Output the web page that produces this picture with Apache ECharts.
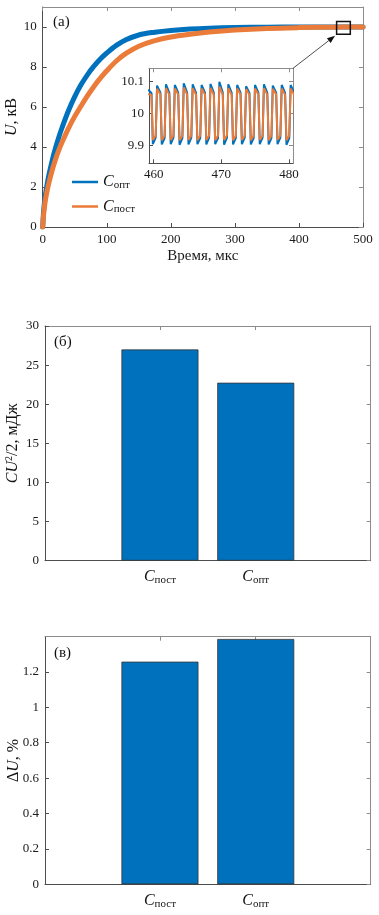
<!DOCTYPE html>
<html><head><meta charset="utf-8">
<script src="https://cdn.jsdelivr.net/npm/echarts@6/dist/echarts.min.js"></script>
<style>html,body{margin:0;padding:0;background:#fff}#c{width:379px;height:915px}</style>
</head><body><div id="c"></div>
<script>
// ---- data ----
const timeUs = [0,1,2,4,7,10,15,20,25,30,40,50,60,70,80,90,100,115,130,150,175,200,230,260,300,350,400,450,500];
const uOpt   = [0,0.6,1.0,1.55,2.15,2.65,3.35,3.95,4.48,4.95,5.8,6.52,7.12,7.62,8.04,8.4,8.7,9.08,9.36,9.6,9.74,9.83,9.9,9.94,9.97,9.99,10.0,10.0,10.0];
const uPost  = [0,0.45,0.8,1.3,1.82,2.25,2.86,3.38,3.83,4.22,4.92,5.53,6.06,6.57,7.03,7.44,7.81,8.3,8.68,9.04,9.32,9.5,9.64,9.75,9.85,9.93,9.97,9.99,10.0];

const insetTime = [
 459.17,459.67,459.87,460.29, 460.49,460.99,461.19,461.61, 461.81,462.31,462.51,462.92,
 463.12,463.62,463.82,464.24, 464.44,464.94,465.14,465.56, 465.76,466.26,466.46,466.88,
 467.08,467.58,467.78,468.19, 468.39,468.89,469.09,469.51, 469.71,470.21,470.41,470.83,
 471.03,471.53,471.73,472.14, 472.34,472.84,473.04,473.46, 473.66,474.16,474.36,474.78,
 474.98,475.48,475.68,476.10, 476.30,476.80,477.00,477.41, 477.61,478.11,478.31,478.73,
 478.93,479.43,479.63,480.05, 480.25,480.75,480.95,481.37];
const insetOpt = [
 10.075,10.065,9.905,9.925, 10.088,10.066,9.904,9.924, 10.092,10.065,9.905,9.925,
 10.090,10.066,9.903,9.924, 10.095,10.066,9.904,9.925, 10.092,10.065,9.905,9.924,
 10.090,10.066,9.904,9.925, 10.093,10.065,9.905,9.924, 10.100,10.066,9.903,9.925,
 10.092,10.065,9.904,9.924, 10.090,10.066,9.905,9.925, 10.086,10.065,9.904,9.924,
 10.090,10.066,9.905,9.925, 10.092,10.065,9.904,9.924, 10.088,10.066,9.905,9.925,
 10.090,10.065,9.903,9.924, 10.090,10.066,9.905,9.925];
const insetPost = [
 10.062,10.058,9.918,9.932, 10.078,10.060,9.917,9.932, 10.080,10.059,9.918,9.933,
 10.079,10.060,9.917,9.932, 10.082,10.060,9.918,9.932, 10.080,10.059,9.917,9.933,
 10.079,10.060,9.918,9.932, 10.081,10.059,9.917,9.932, 10.085,10.060,9.918,9.933,
 10.080,10.059,9.917,9.932, 10.079,10.060,9.918,9.932, 10.077,10.059,9.917,9.933,
 10.079,10.060,9.918,9.932, 10.080,10.059,9.917,9.932, 10.078,10.060,9.918,9.933,
 10.079,10.059,9.917,9.932, 10.079,10.060,9.918,9.932];

const barNames  = ['пост','опт'];
const barPos    = [1, 2];
const energy    = [27.0, 22.75];
const deltaU    = [1.258, 1.386];

const mainXTicks   = [0,100,200,300,400,500];
const mainYTicks   = [0,2,4,6,8,10];
const insetXTicks  = [460,470,480];
const insetYTicks  = [9.9,10,10.1];
const energyTicks  = [0,5,10,15,20,25,30];
const dUTicks      = [0,0.2,0.4,0.6,0.8,1,1.2];

const zoomBoxX = [458.8, 480.2];
const zoomBoxY = [9.64, 10.27];

// ---- styling ----
const serif = "'Liberation Serif','Times New Roman',serif";
const BLUE = '#0072BD', ORANGE = '#EA7B38';
const AX_DARK = '#4d4d4d', AX_LIGHT = '#8c8c8c';
const rich = {
  c: {fontFamily: serif, fontStyle: 'italic', fontSize: 16, color: '#111'},
  s: {fontFamily: serif, fontSize: 11, color: '#111', padding: [6,0,0,0]},
  sup: {fontFamily: serif, fontSize: 10, color: '#111', padding: [0,0,7,0]},
  n: {fontFamily: serif, fontSize: 14, color: '#111'},
  i: {fontFamily: serif, fontStyle: 'italic', fontSize: 14, color: '#111'},
  N: {fontFamily: serif, fontSize: 16, color: '#111'},
  I: {fontFamily: serif, fontStyle: 'italic', fontSize: 16, color: '#111'}
};

const gridBase = {outerBoundsMode: 'none', containLabel: false};
const grids = [
  Object.assign({left: 42.7, top: 7, width: 320.3, height: 220}, gridBase),
  Object.assign({left: 149, top: 68.3, width: 144, height: 95, show: true, backgroundColor: '#fff', borderWidth: 0}, gridBase),
  Object.assign({left: 45, top: 326, width: 325.7, height: 234.7}, gridBase),
  Object.assign({left: 45, top: 636.7, width: 325.7, height: 247.6}, gridBase)
];

function mainAxis(gi, pos, min, max, ticks, labelOpt, nameOpt) {
  const isMirror = (pos === 'top' || pos === 'right');
  const a = {
    type: 'value', gridIndex: gi, position: pos, min: min, max: max,
    axisLine: {show: true, onZero: false, lineStyle: {color: isMirror ? AX_LIGHT : AX_DARK, width: 1}},
    axisTick: {show: true, inside: true, length: 4, customValues: ticks, lineStyle: {color: isMirror ? AX_LIGHT : AX_DARK}},
    splitLine: {show: false},
    axisLabel: isMirror ? {show: false} : Object.assign({
      show: true, customValues: ticks, fontFamily: serif, fontSize: 13, color: '#1a1a1a', margin: 6
    }, labelOpt || {})
  };
  if (nameOpt) Object.assign(a, nameOpt);
  return a;
}

const catLabel = {
  margin: 8,
  formatter: function (v) { const k = barPos.indexOf(Math.round(v)); return k >= 0 ? '{c|C}{s|' + barNames[k] + '}' : ''; },
  rich: rich
};

const xAxes = [
  mainAxis(0, 'bottom', 0, 500, mainXTicks, null, {
    name: 'Время, мкс', nameLocation: 'middle', nameGap: 22,
    nameTextStyle: {fontFamily: serif, fontSize: 15, color: '#1a1a1a'}}),
  mainAxis(0, 'top', 0, 500, mainXTicks),
  mainAxis(1, 'bottom', 459.3, 480.6, insetXTicks, {margin: 5}),
  mainAxis(1, 'top', 459.3, 480.6, insetXTicks),
  mainAxis(2, 'bottom', -0.2, 3.2, barPos, catLabel),
  mainAxis(2, 'top', -0.2, 3.2, barPos),
  mainAxis(3, 'bottom', -0.2, 3.2, barPos, catLabel),
  mainAxis(3, 'top', -0.2, 3.2, barPos)
];
const yAxes = [
  mainAxis(0, 'left', 0, 11, mainYTicks, null, {
    name: '{I|U}{N|, кВ}', nameLocation: 'middle', nameGap: 23, nameMoveOverlap: false, nameTextStyle: {rich: rich}}),
  mainAxis(0, 'right', 0, 11, mainYTicks),
  mainAxis(1, 'left', 9.845, 10.142, insetYTicks, {margin: 5}),
  mainAxis(1, 'right', 9.845, 10.142, insetYTicks),
  mainAxis(2, 'left', 0, 30, energyTicks, null, {
    name: '{I|CU}{sup|2}{N|/2, мДж}', nameLocation: 'middle', nameGap: 24, nameMoveOverlap: false, nameTextStyle: {rich: rich}}),
  mainAxis(2, 'right', 0, 30, energyTicks),
  mainAxis(3, 'left', 0, 1.399, dUTicks, null, {
    name: '{N|Δ}{I|U}{N|, %}', nameLocation: 'middle', nameGap: 23, nameMoveOverlap: false, nameTextStyle: {rich: rich}}),
  mainAxis(3, 'right', 0, 1.399, dUTicks)
];

const zip = (xs, ys) => xs.map((x, i) => [x, ys[i]]);

const option = {
  animation: false,
  backgroundColor: '#fff',
  grid: grids,
  xAxis: xAxes,
  yAxis: yAxes,
  legend: {
    data: ['opt', 'post'], orient: 'vertical', left: 67, top: 169,
    itemWidth: 26, itemHeight: 2.5, icon: 'rect', itemGap: 8,
    formatter: n => n === 'opt' ? '{c|C}{s|опт}' : '{c|C}{s|пост}',
    textStyle: {rich: rich}
  },
  series: [
    {name: 'opt', type: 'line', xAxisIndex: 0, yAxisIndex: 0, data: zip(timeUs, uOpt),
     showSymbol: false, smooth: 0.35, color: BLUE, lineStyle: {width: 5, join: 'round', cap: 'round'}},
    {name: 'post', type: 'line', xAxisIndex: 0, yAxisIndex: 0, data: zip(timeUs, uPost),
     showSymbol: false, smooth: 0.35, color: ORANGE, lineStyle: {width: 5, join: 'round', cap: 'round'}},
    {name: 'insetOpt', type: 'line', xAxisIndex: 2, yAxisIndex: 2, data: zip(insetTime, insetOpt),
     showSymbol: false, clip: true, color: BLUE, lineStyle: {width: 2}, z: 5},
    {name: 'insetPost', type: 'line', xAxisIndex: 2, yAxisIndex: 2, data: zip(insetTime, insetPost),
     showSymbol: false, clip: true, color: ORANGE, lineStyle: {width: 2}, z: 6},
    {name: 'energy', type: 'bar', xAxisIndex: 4, yAxisIndex: 4, data: zip(barPos, energy),
     barWidth: 77, itemStyle: {color: BLUE, borderColor: '#333', borderWidth: 0.8}},
    {name: 'dU', type: 'bar', xAxisIndex: 6, yAxisIndex: 6, data: zip(barPos, deltaU),
     barWidth: 77, itemStyle: {color: BLUE, borderColor: '#333', borderWidth: 0.8}}
  ]
};

const chart = echarts.init(document.getElementById('c'), null, {renderer: 'canvas'});
chart.setOption(option);

// annotation: zoom box and arrow from inset corner
const b0 = chart.convertToPixel({gridIndex: 0}, [zoomBoxX[0], zoomBoxY[1]]);
const b1 = chart.convertToPixel({gridIndex: 0}, [zoomBoxX[1], zoomBoxY[0]]);
const ic = chart.convertToPixel({gridIndex: 1}, [480.6, 10.142]);
const end = [b0[0] - 1.5, b1[1] + 1.5];
const dx = end[0] - ic[0], dy = end[1] - ic[1], L = Math.hypot(dx, dy);
const ux = dx / L, uy = dy / L, hl = 8, hw = 3;
const base = [end[0] - ux * hl, end[1] - uy * hl];
const titleStyle = {font: '15px ' + serif, fill: '#111'};
chart.setOption({
  graphic: {elements: [
    {type: 'text', left: 53, top: 15, style: Object.assign({text: '(а)'}, titleStyle)},
    {type: 'text', left: 54, top: 335, style: Object.assign({text: '(б)'}, titleStyle)},
    {type: 'text', left: 54, top: 646, style: Object.assign({text: '(в)'}, titleStyle)},
    {type: 'rect', shape: {x: b0[0], y: b0[1], width: b1[0] - b0[0], height: b1[1] - b0[1]},
     style: {fill: 'none', stroke: '#111', lineWidth: 1.5}, z: 100},
    {type: 'line', shape: {x1: ic[0], y1: ic[1], x2: base[0], y2: base[1]},
     style: {stroke: '#222', lineWidth: 0.8}, z: 100},
    {type: 'polygon', shape: {points: [end, [base[0] - uy * hw, base[1] + ux * hw], [base[0] + uy * hw, base[1] - ux * hw]]},
     style: {fill: '#111'}, z: 100}
  ]}
});
</script></body></html>
